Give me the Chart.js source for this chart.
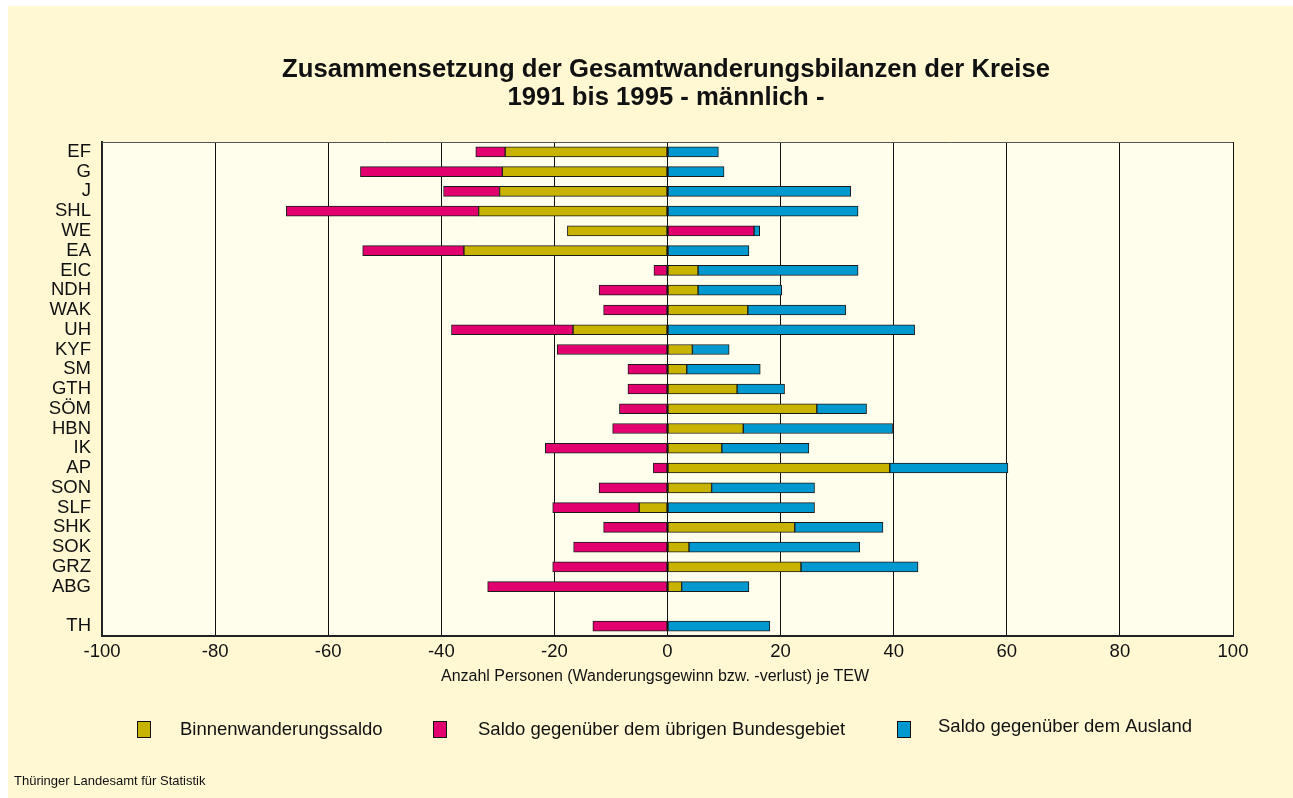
<!DOCTYPE html>
<html lang="de">
<head>
<meta charset="utf-8">
<title>Gesamtwanderungsbilanzen der Kreise 1991-1995</title>
<script src="https://cdn.jsdelivr.net/npm/chart.js@4.4.1/dist/chart.umd.min.js"></script>
<style>
  html, body { margin: 0; padding: 0; background: #fff; }
  canvas { display: block; }
</style>
</head>
<body>
<canvas id="chart" width="1293" height="798"></canvas>
<script>
// Kreise (empty slot separates the state total TH)
const kreise = ['EF', 'G', 'J', 'SHL', 'WE', 'EA', 'EIC', 'NDH', 'WAK', 'UH', 'KYF', 'SM', 'GTH',
  'SÖM', 'HBN', 'IK', 'AP', 'SON', 'SLF', 'SHK', 'SOK', 'GRZ', 'ABG', '', 'TH'];

// persons per 1000 inhabitants, male, 1991-1995
const binnen  = [-28.7, -29.2, -29.7, -33.4, -17.7, -36.0, 5.4, 5.4, 14.2, -16.7, 4.4, 3.4, 12.3,
  26.4, 13.4, 9.6, 39.3, 7.8, -5.0, 22.5, 3.8, 23.6, 2.5, null, 0];
const bund    = [-5.2, -25.1, -9.9, -34.0, 15.3, -17.9, -2.4, -12.1, -11.3, -21.5, -19.5, -7.0, -7.0,
  -8.5, -9.7, -21.6, -2.5, -12.1, -15.3, -11.3, -16.6, -20.3, -31.8, null, -13.2];
const ausland = [9.0, 10.0, 32.4, 33.7, 1.0, 14.4, 28.3, 14.8, 17.3, 43.7, 6.5, 13.0, 8.4,
  8.8, 26.4, 15.4, 20.9, 18.2, 26.0, 15.6, 30.2, 20.7, 11.9, null, 18.1];

const xTicks = [-100, -80, -60, -40, -20, 0, 20, 40, 60, 80, 100];

const FONT = '"Liberation Sans", Arial, Helvetica, sans-serif';
const COL_BINNEN = '#C8B400';
const COL_BUND = '#E2006F';
const COL_AUSLAND = '#0099CF';

// backgrounds, frame and all free text
const decor = {
  id: 'decor',
  beforeDraw(chart) {
    const { ctx, chartArea: a } = chart;
    ctx.save();
    ctx.fillStyle = '#ffffff';
    ctx.fillRect(0, 0, chart.width, chart.height);
    ctx.fillStyle = '#FFF8D2';
    ctx.fillRect(8, 6, chart.width - 8, chart.height - 6);
    ctx.fillStyle = '#FFFDEC';
    ctx.fillRect(a.left, a.top, a.right - a.left, a.bottom - a.top);
    ctx.restore();
  },
  afterDraw(chart) {
    const { ctx, chartArea: a } = chart;
    ctx.save();
    // top frame line
    ctx.strokeStyle = '#555';
    ctx.lineWidth = 1;
    ctx.beginPath();
    ctx.moveTo(a.left, a.top + 0.5);
    ctx.lineTo(a.right, a.top + 0.5);
    ctx.stroke();

    ctx.fillStyle = '#111';
    ctx.textAlign = 'center';
    ctx.textBaseline = 'middle';
    ctx.font = 'bold 25.7px ' + FONT;
    ctx.fillText('Zusammensetzung der Gesamtwanderungsbilanzen der Kreise', 666, 70);
    ctx.fillText('1991 bis 1995 - männlich -', 666, 98);

    ctx.font = '16px ' + FONT;
    ctx.fillText('Anzahl Personen (Wanderungsgewinn bzw. -verlust) je TEW', 655, 677);

    // legend
    const boxX = [137, 433, 897];
    const textX = [180, 478, 938];
    const textY = [730, 730, 727];
    ctx.textAlign = 'left';
    ctx.font = '18.5px ' + FONT;
    chart.data.datasets.forEach((ds, i) => {
      ctx.fillStyle = ds.backgroundColor;
      ctx.fillRect(boxX[i], 721, 13, 16);
      ctx.strokeStyle = '#111';
      ctx.lineWidth = 1;
      ctx.strokeRect(boxX[i] + 0.5, 721.5, 13, 16);
      ctx.fillStyle = '#111';
      ctx.fillText(ds.label, textX[i], textY[i]);
    });

    ctx.font = '13px ' + FONT;
    ctx.fillText('Thüringer Landesamt für Statistik', 14, 781);
    ctx.restore();
  }
};

function series(label, data, color) {
  return {
    label,
    data,
    backgroundColor: color,
    borderColor: '#1b1b1b',
    borderWidth: 1,
    borderSkipped: false,
    barThickness: 10
  };
}

new Chart(document.getElementById('chart'), {
  type: 'bar',
  data: {
    labels: kreise,
    datasets: [
      series('Binnenwanderungssaldo', binnen, COL_BINNEN),
      series('Saldo gegenüber dem übrigen Bundesgebiet', bund, COL_BUND),
      series('Saldo gegenüber dem Ausland', ausland, COL_AUSLAND)
    ]
  },
  options: {
    indexAxis: 'y',
    responsive: false,
    animation: false,
    layout: { padding: { left: 8, top: 142, right: 60, bottom: 0 } },
    plugins: {
      legend: { display: false },
      title: { display: false },
      tooltip: { enabled: false }
    },
    scales: {
      x: {
        stacked: true,
        min: -100,
        max: 100,
        afterBuildTicks(scale) { scale.ticks = xTicks.map(v => ({ value: v })); },
        afterFit(scale) { scale.height = 162; },
        grid: { color: '#111', lineWidth: 1, drawTicks: false },
        border: { display: true, color: '#222', width: 2 },
        ticks: { color: '#111', font: { family: FONT, size: 18.5 }, padding: 5 }
      },
      y: {
        stacked: true,
        afterFit(scale) { scale.width = 94; },
        grid: { display: false, drawTicks: false },
        border: { display: true, color: '#222', width: 2 },
        ticks: { color: '#111', font: { family: FONT, size: 18.5 }, padding: 11, autoSkip: false }
      }
    }
  },
  plugins: [decor]
});
</script>
</body>
</html>
